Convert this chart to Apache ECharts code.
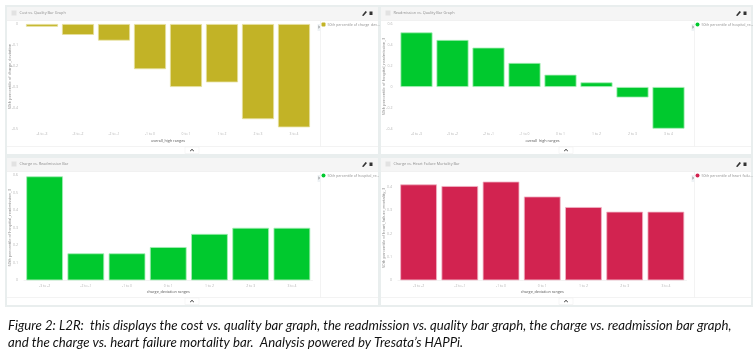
<!DOCTYPE html>
<html>
<head>
<meta charset="utf-8">
<style>
html, body { margin: 0; padding: 0; background: #fff; }
#main { width: 755px; height: 355px; }
</style>
<script src="https://cdn.jsdelivr.net/npm/echarts@6/dist/echarts.min.js"></script>
</head>
<body>
<div id="main"></div>
<script>
const overallRanges = ['-4 to -3', '-3 to -2', '-2 to -1', '-1 to 0', '0 to 1', '1 to 2', '2 to 3', '3 to 4'];
const chargeRanges = ['-3 to -2', '-2 to -1', '-1 to 0', '0 to 1', '1 to 2', '2 to 3', '3 to 4'];

const costValues = [-0.013, -0.052, -0.079, -0.215, -0.3, -0.278, -0.453, -0.492];
const readmissionValues = [0.52, 0.448, 0.375, 0.229, 0.117, 0.044, -0.1, -0.397];
const chargeReadmissionValues = [0.594, 0.154, 0.154, 0.19, 0.265, 0.3, 0.3];
const chargeMortalityValues = [0.411, 0.404, 0.423, 0.359, 0.314, 0.294, 0.294];

const caption1 = 'Figure 2: L2R:  this displays the cost vs. quality bar graph, the readmission vs. quality bar graph, the charge vs. readmission bar graph,';
const caption2 = 'and the charge vs. heart failure mortality bar.  Analysis powered by Tresata\u2019s HAPPi.';

let panels = [
    {title: 'Cost vs. Quality Bar Graph', x: 7, y: 7, w: 371, h: 147, left: 24, top: 24, width: 288, height: 105,
        cats: overallRanges, data: costValues, color: '#c2b326', edge: '#e6e0a0', min: -0.5, max: 0, step: 0.1,
        xName: 'overall_high ranges', yName: '50th percentile of charge_deviation', legend: '50th percentile of charge_dev...'},
    {title: 'Readmission vs. Quality Bar Graph', x: 381, y: 7, w: 370, h: 147, left: 398.5, top: 24, width: 288, height: 105,
        cats: overallRanges, data: readmissionValues, color: '#00c92e', edge: '#a5eeb5', min: -0.4, max: 0.6, step: 0.2,
        xName: 'overall_high ranges', yName: '50th percentile of hospital_readmission_3', legend: '50th percentile of hospital_re...'},
    {title: 'Charge vs. Readmission Bar', x: 7, y: 158, w: 371, h: 147, left: 24, top: 175.3, width: 288.5, height: 105,
        cats: chargeRanges, data: chargeReadmissionValues, color: '#00c92e', edge: '#a5eeb5', min: 0, max: 0.6, step: 0.1,
        xName: 'charge_deviation ranges', yName: '50th percentile of hospital_readmission_3', legend: '50th percentile of hospital_re...'},
    {title: 'Charge vs. Heart Failure Mortality Bar', x: 381, y: 158, w: 370, h: 147, left: 398, top: 175.3, width: 288.5, height: 105,
        cats: chargeRanges, data: chargeMortalityValues, color: '#d22350', edge: '#f0b4c4', min: 0, max: 0.45, step: 0.1,
        xName: 'charge_deviation ranges', yName: '50th percentile of heart_failure_mortality_3', legend: '50th percentile of heart_failu...'}
];

// panel frames, headers and the little icons round each chart
function panelShapes(p) {
    let midX = p.x + 185;
    return [
        {type: 'rect', shape: {x: p.x, y: p.y, width: p.w, height: p.h}, style: {fill: '#fff'}},
        {type: 'rect', shape: {x: p.x, y: p.y, width: p.w, height: 13.5}, style: {fill: '#f5f5f5'}},
        {type: 'line', shape: {x1: p.x, y1: p.y + 13.5, x2: p.x + p.w, y2: p.y + 13.5}, style: {stroke: '#e8e8e8', lineWidth: 0.5}},
        {type: 'line', shape: {x1: p.x, y1: p.y + 139.5, x2: p.x + p.w, y2: p.y + 139.5}, style: {stroke: '#eeeeee', lineWidth: 0.7}},
        {type: 'line', shape: {x1: p.x + 313.5, y1: p.y + 13.5, x2: p.x + 313.5, y2: p.y + 139.5}, style: {stroke: '#eeeeee', lineWidth: 0.7}},
        {type: 'rect', shape: {x: p.x + 4.5, y: p.y + 3.5, width: 5, height: 5}, style: {fill: '#e2e2e2'}},
        {type: 'text', x: p.x + 12.5, y: p.y + 6.2, style: {text: p.title, font: '3.8px "Open Sans"', fill: '#8f8f8f', textVerticalAlign: 'middle'}},
        {type: 'polygon', shape: {points: [[p.x + 355, p.y + 8.5], [p.x + 358.5, p.y + 4], [p.x + 360, p.y + 5], [p.x + 356.5, p.y + 9]]}, style: {fill: '#333'}},
        {type: 'rect', shape: {x: p.x + 362.5, y: p.y + 4.5, width: 3, height: 3.5}, style: {fill: '#333'}},
        {type: 'rect', shape: {x: p.x + 310.5, y: p.y + 17, width: 3, height: 7}, style: {fill: '#eef2f5'}},
        {type: 'polyline', shape: {points: [[p.x + 311.3, p.y + 19], [p.x + 312.5, p.y + 20], [p.x + 311.3, p.y + 21]]}, style: {stroke: '#555', lineWidth: 0.7, fill: null}},
        {type: 'rect', shape: {x: midX - 7, y: p.y + 140, width: 14, height: 6.5}, style: {fill: '#fff', stroke: '#eeeeee', lineWidth: 0.5}},
        {type: 'polyline', shape: {points: [[midX - 1.8, p.y + 144], [midX, p.y + 142.4], [midX + 1.8, p.y + 144]]}, style: {stroke: '#333', lineWidth: 1, fill: null}}
    ];
}

let option = {
    animation: false,
    backgroundColor: '#fff',
    graphic: {
        elements: [
            {type: 'rect', z: -10, shape: {x: 5, y: 5, width: 748, height: 302}, style: {fill: '#e9eeee'}}
        ].concat(
            panels.flatMap(p => panelShapes(p).map(s => Object.assign({z: -5}, s))),
            [
                {type: 'text', x: 8, y: 326, style: {text: caption1, font: 'italic 13.2px Lato', fill: '#111', textVerticalAlign: 'middle'}},
                {type: 'text', x: 8, y: 343, style: {text: caption2, font: 'italic 13.2px Lato', fill: '#111', textVerticalAlign: 'middle'}}
            ]
        )
    },
    grid: panels.map(p => ({left: p.left, top: p.top, width: p.width, height: p.height})),
    legend: panels.map((p, i) => ({
        data: [p.legend],
        left: p.x + 314.5,
        top: p.y + 15.5,
        padding: 0,
        itemWidth: 4,
        itemHeight: 4,
        itemGap: 2,
        icon: i == 0 ? 'roundRect' : 'circle',
        itemStyle: {borderWidth: 0},
        textStyle: {fontSize: 3.6, color: '#8f8f8f', fontFamily: 'Open Sans', padding: [0, 0, 0, -3]}
    })),
    xAxis: panels.map((p, i) => ({
        type: 'category',
        gridIndex: i,
        data: p.cats,
        name: p.xName,
        nameLocation: 'middle',
        nameGap: 9.5,
        nameTextStyle: {fontSize: 3.8, color: '#555', fontFamily: 'Open Sans'},
        axisLine: {show: i > 1, onZero: false, lineStyle: {color: '#eeeeee', width: 0.7}},
        axisTick: {show: false},
        axisLabel: {interval: 0, fontSize: 3.4, color: '#b5b5b5', margin: 4, fontFamily: 'Open Sans'}
    })),
    yAxis: panels.map((p, i) => ({
        type: 'value',
        gridIndex: i,
        min: p.min,
        max: p.max,
        interval: p.step,
        name: p.yName,
        nameLocation: 'middle',
        nameGap: 12.5,
        nameMoveOverlap: false,
        nameTextStyle: {fontSize: 4, color: '#8a8a8a', fontFamily: 'Open Sans'},
        axisLine: {show: false},
        axisTick: {show: false},
        splitLine: {show: false},
        axisLabel: {fontSize: 3.6, color: '#b5b5b5', margin: 6, showMaxLabel: i != 3, fontFamily: 'Open Sans'}
    })),
    series: panels.map((p, i) => ({
        type: 'bar',
        name: p.legend,
        xAxisIndex: i,
        yAxisIndex: i,
        data: p.data,
        barCategoryGap: '11%',
        itemStyle: {color: p.color, borderColor: p.edge, borderWidth: 0.8}
    }))
};

let myChart = echarts.init(document.getElementById('main'), null, {renderer: 'canvas'});
myChart.setOption(option);
</script>
</body>
</html>
